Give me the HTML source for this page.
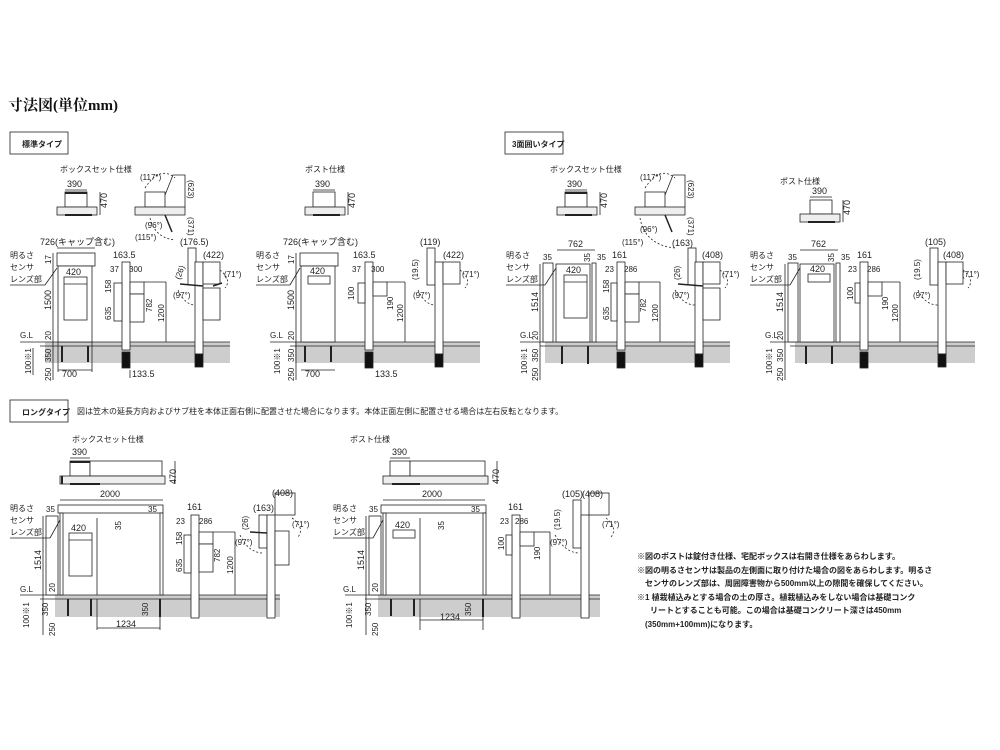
<!DOCTYPE html>
<html><head><meta charset="utf-8"><style>
html,body{margin:0;padding:0;background:#fff;}
svg{display:block;font-family:"Liberation Sans","Noto Sans CJK JP",sans-serif;}
.t{font-size:9px;fill:#222;}
.s{font-size:8px;fill:#222;}
.j{font-size:8px;fill:#222;font-weight:bold;}
</style></head><body>
<svg width="1000" height="750" viewBox="0 0 1000 750" xmlns="http://www.w3.org/2000/svg">
<g stroke="#222" fill="none" stroke-width="0.8">

<text x="8" y="110" style="font-family:'Liberation Serif','Noto Serif CJK SC',serif;font-size:15px;font-weight:bold" fill="#111" stroke="none">寸法図(単位mm)</text>
<rect x="10" y="132" width="58" height="22" fill="#fff"/>
<text x="22" y="147" class="j" stroke="none">標準タイプ</text>
<rect x="505" y="132" width="58" height="22" fill="#fff"/>
<text x="512" y="147" class="j" stroke="none">3面囲いタイプ</text>
<rect x="10" y="400" width="58" height="22" fill="#fff"/>
<text x="22" y="415" class="j" stroke="none">ロングタイプ</text>
<text x="77" y="414" class="s" stroke="none">図は笠木の延長方向およびサブ柱を本体正面右側に配置させた場合になります。本体正面左側に配置させる場合は左右反転となります。</text>

<!-- ground bands top -->
<rect x="45" y="342" width="185" height="21" fill="#cdcdcd" stroke="none"/>
<rect x="295" y="342" width="185" height="21" fill="#cdcdcd" stroke="none"/>
<rect x="545" y="342" width="185" height="21" fill="#cdcdcd" stroke="none"/>
<rect x="795" y="342" width="180" height="21" fill="#cdcdcd" stroke="none"/>
<line x1="20" y1="342" x2="230" y2="342"/><line x1="40" y1="346" x2="230" y2="346"/>
<line x1="270" y1="342" x2="480" y2="342"/><line x1="290" y1="346" x2="480" y2="346"/>
<line x1="520" y1="342" x2="730" y2="342"/><line x1="540" y1="346" x2="730" y2="346"/>
<line x1="770" y1="342" x2="975" y2="342"/><line x1="790" y1="346" x2="975" y2="346"/>

<g>
<text x="60" y="172" class="s" stroke="none">ボックスセット仕様</text>
<rect x="65" y="192" width="22" height="15" fill="#fff"/><line x1="65" y1="193" x2="87" y2="193" stroke-width="2"/>
<rect x="57" y="207" width="40" height="8" fill="#eee"/><line x1="65" y1="215" x2="92" y2="215" stroke-width="2"/>
<line x1="65" y1="190" x2="87" y2="190"/><text x="67" y="187" class="t" stroke="none">390</text>
<line x1="100" y1="192" x2="100" y2="215"/><text transform="translate(107,208) rotate(-90)" class="t" stroke="none">470</text>
<rect x="145" y="192" width="20" height="15" fill="#fff"/><rect x="135" y="207" width="50" height="8" fill="#eee"/>
<path d="M165 195 L173 175 L185 175 L185 207"/><path d="M165 215 L172 232" stroke-width="1.5"/>
<path d="M145 188 Q160 165 175 178" stroke-dasharray="2,2"/><path d="M150 218 Q155 238 175 240" stroke-dasharray="2,2"/>
<text x="140" y="180" class="s" stroke="none">(117°)</text><text x="145" y="228" class="s" stroke="none">(96°)</text><text x="135" y="240" class="s" stroke="none">(115°)</text>
<text transform="translate(188,180) rotate(90)" class="s" stroke="none">(623)</text><text transform="translate(188,217) rotate(90)" class="s" stroke="none">(371)</text>
</g>

<g>
<text x="40" y="245" class="t" stroke="none">726(キャップ含む)</text><line x1="57" y1="248" x2="95" y2="248"/>
<rect x="57" y="253" width="38" height="13" fill="#fff"/><rect x="58" y="266" width="34" height="76" fill="#fff"/>
<rect x="64" y="277" width="23" height="43"/><line x1="64" y1="284" x2="87" y2="284"/><text x="66" y="275" class="t" stroke="none">420</text>
<line x1="62" y1="346" x2="62" y2="362" stroke-width="2"/><line x1="88" y1="346" x2="88" y2="362" stroke-width="2"/>
<line x1="58" y1="342" x2="58" y2="372"/><line x1="92" y1="342" x2="92" y2="372"/><line x1="58" y1="370" x2="92" y2="370"/>
<text x="62" y="377" class="t" stroke="none">700</text>
<line x1="53" y1="253" x2="53" y2="380"/>
<text transform="translate(51,264) rotate(-90)" class="s" stroke="none">17</text>
<text transform="translate(51,310) rotate(-90)" class="t" stroke="none">1500</text>
<text transform="translate(51,340) rotate(-90)" class="s" stroke="none">20</text>
<text transform="translate(51,362) rotate(-90)" class="s" stroke="none">350</text>
<text transform="translate(51,381) rotate(-90)" class="s" stroke="none">250</text>
<text transform="translate(31,374) rotate(-90)" class="s" stroke="none">100※1</text><line x1="33" y1="348" x2="33" y2="375"/>
<text x="20" y="338" class="s" stroke="none">G.L</text>
<text x="10" y="258" class="s" stroke="none">明るさ</text><text x="10" y="270" class="s" stroke="none">センサ</text><text x="10" y="282" class="s" stroke="none">レンズ部</text>
<line x1="10" y1="285" x2="45" y2="285"/><line x1="45" y1="285" x2="57" y2="268"/>
<rect x="122" y="262" width="8" height="88" fill="#fff"/><rect x="122" y="352" width="8" height="16" fill="#111"/>
<rect x="114" y="283" width="8" height="38" fill="#fff"/><rect x="130" y="282" width="14" height="12" fill="#fff"/><rect x="130" y="294" width="14" height="28" fill="#fff"/>
<line x1="144" y1="282" x2="166" y2="282"/><line x1="166" y1="282" x2="166" y2="342"/>
<text x="113" y="258" class="t" stroke="none">163.5</text><text x="110" y="272" class="s" stroke="none">37</text><text x="129" y="272" class="s" stroke="none">300</text>
<text transform="translate(111,293) rotate(-90)" class="s" stroke="none">158</text><text transform="translate(111,320) rotate(-90)" class="s" stroke="none">635</text>
<text transform="translate(152,312) rotate(-90)" class="s" stroke="none">782</text><text transform="translate(164,322) rotate(-90)" class="s" stroke="none">1200</text>
<text x="132" y="377" class="t" stroke="none">133.5</text><line x1="130" y1="370" x2="130" y2="378"/>
<rect x="188" y="248" width="8" height="37" fill="#fff"/>
<rect x="195" y="262" width="8" height="92" fill="#fff"/><rect x="195" y="354" width="8" height="13" fill="#111"/>
<rect x="203" y="262" width="17" height="22" fill="#fff"/><rect x="203" y="288" width="17" height="32" fill="#fff"/>
<line x1="180" y1="284" x2="203" y2="286" stroke-width="1.5"/><line x1="213" y1="286" x2="222" y2="283" stroke-width="1.5"/>
<path d="M178 290 Q185 305 195 305" stroke-dasharray="2,2"/><path d="M220 270 Q232 280 225 288" stroke-dasharray="2,2"/>
<text x="180" y="245" class="t" stroke="none">(176.5)</text><text x="203" y="258" class="t" stroke="none">(422)</text>
<text transform="translate(180,280) rotate(-70)" class="s" stroke="none">(26)</text><text x="224" y="277" class="s" stroke="none">(71°)</text><text x="173" y="298" class="s" stroke="none">(97°)</text>
</g>

<g>
<text x="305" y="172" class="s" stroke="none">ポスト仕様</text>
<rect x="313" y="192" width="22" height="15" fill="#fff"/><rect x="305" y="207" width="40" height="8" fill="#eee"/><line x1="313" y1="215" x2="340" y2="215" stroke-width="2"/>
<line x1="313" y1="190" x2="335" y2="190"/><text x="315" y="187" class="t" stroke="none">390</text>
<line x1="348" y1="192" x2="348" y2="215"/><text transform="translate(355,208) rotate(-90)" class="t" stroke="none">470</text>
<text x="283" y="245" class="t" stroke="none">726(キャップ含む)</text>
<rect x="300" y="253" width="38" height="13" fill="#fff"/><rect x="301" y="266" width="34" height="76" fill="#fff"/>
<rect x="308" y="276" width="22" height="8"/><text x="310" y="274" class="t" stroke="none">420</text>
<line x1="305" y1="346" x2="305" y2="362" stroke-width="2"/><line x1="331" y1="346" x2="331" y2="362" stroke-width="2"/>
<line x1="301" y1="370" x2="335" y2="370"/><text x="305" y="377" class="t" stroke="none">700</text>
<line x1="296" y1="253" x2="296" y2="380"/>
<text transform="translate(294,264) rotate(-90)" class="s" stroke="none">17</text><text transform="translate(294,310) rotate(-90)" class="t" stroke="none">1500</text>
<text transform="translate(294,340) rotate(-90)" class="s" stroke="none">20</text><text transform="translate(294,362) rotate(-90)" class="s" stroke="none">350</text>
<text transform="translate(294,381) rotate(-90)" class="s" stroke="none">250</text><text transform="translate(280,374) rotate(-90)" class="s" stroke="none">100※1</text>
<text x="270" y="338" class="s" stroke="none">G.L</text>
<text x="256" y="258" class="s" stroke="none">明るさ</text><text x="256" y="270" class="s" stroke="none">センサ</text><text x="256" y="282" class="s" stroke="none">レンズ部</text>
<line x1="256" y1="285" x2="290" y2="285"/><line x1="290" y1="285" x2="300" y2="268"/>
<rect x="365" y="262" width="8" height="88" fill="#fff"/><rect x="365" y="352" width="8" height="16" fill="#111"/>
<rect x="358" y="283" width="7" height="20" fill="#fff"/><rect x="373" y="282" width="14" height="14" fill="#fff"/>
<line x1="387" y1="282" x2="405" y2="282"/><line x1="405" y1="282" x2="405" y2="342"/>
<text x="353" y="258" class="t" stroke="none">163.5</text><text x="352" y="272" class="s" stroke="none">37</text><text x="371" y="272" class="s" stroke="none">300</text>
<text transform="translate(354,300) rotate(-90)" class="s" stroke="none">100</text><text transform="translate(393,310) rotate(-90)" class="s" stroke="none">190</text><text transform="translate(403,322) rotate(-90)" class="s" stroke="none">1200</text>
<text x="375" y="377" class="t" stroke="none">133.5</text>
<rect x="427" y="248" width="8" height="37" fill="#fff"/><rect x="435" y="262" width="8" height="92" fill="#fff"/><rect x="435" y="354" width="8" height="13" fill="#111"/>
<rect x="443" y="262" width="17" height="22" fill="#fff"/>
<text x="420" y="245" class="t" stroke="none">(119)</text><text x="443" y="258" class="t" stroke="none">(422)</text>
<text transform="translate(418,280) rotate(-90)" class="s" stroke="none">(19.5)</text><text x="462" y="277" class="s" stroke="none">(71°)</text><text x="413" y="298" class="s" stroke="none">(97°)</text>
<path d="M418 290 Q425 305 435 305" stroke-dasharray="2,2"/><path d="M460 270 Q472 280 465 288" stroke-dasharray="2,2"/>
</g>

<g>
<text x="550" y="172" class="s" stroke="none">ボックスセット仕様</text>
<rect x="565" y="192" width="22" height="15" fill="#fff"/><line x1="565" y1="193" x2="587" y2="193" stroke-width="2"/>
<rect x="557" y="207" width="40" height="8" fill="#eee"/><line x1="565" y1="215" x2="592" y2="215" stroke-width="2"/>
<line x1="565" y1="190" x2="587" y2="190"/><text x="567" y="187" class="t" stroke="none">390</text>
<line x1="600" y1="192" x2="600" y2="215"/><text transform="translate(607,208) rotate(-90)" class="t" stroke="none">470</text>
<rect x="645" y="192" width="20" height="15" fill="#fff"/><rect x="635" y="207" width="50" height="8" fill="#eee"/>
<path d="M665 195 L673 175 L685 175 L685 207"/><path d="M665 215 L672 232" stroke-width="1.5"/>
<path d="M645 188 Q660 165 675 178" stroke-dasharray="2,2"/><path d="M640 218 Q645 245 675 248" stroke-dasharray="2,2"/>
<text x="640" y="180" class="s" stroke="none">(117°)</text><text x="640" y="232" class="s" stroke="none">(96°)</text><text x="622" y="245" class="s" stroke="none">(115°)</text>
<text transform="translate(688,180) rotate(90)" class="s" stroke="none">(623)</text><text transform="translate(688,217) rotate(90)" class="s" stroke="none">(371)</text>
<text x="672" y="246" class="t" stroke="none">(163)</text>
<line x1="557" y1="250" x2="595" y2="250"/><text x="568" y="247" class="t" stroke="none">762</text>
<rect x="543" y="263" width="10" height="79" fill="#fff"/><rect x="592" y="263" width="4" height="79" fill="#fff"/>
<rect x="556" y="264" width="34" height="78" fill="#fff"/>
<rect x="564" y="275" width="23" height="43"/><line x1="564" y1="282" x2="587" y2="282"/><text x="566" y="273" class="t" stroke="none">420</text>
<text x="543" y="260" class="s" stroke="none">35</text><text x="597" y="260" class="s" stroke="none">35</text><text transform="translate(590,262) rotate(-90)" class="s" stroke="none">35</text>
<line x1="562" y1="346" x2="562" y2="364" stroke-width="2"/><line x1="588" y1="346" x2="588" y2="364" stroke-width="2"/>
<line x1="540" y1="264" x2="540" y2="380"/>
<text transform="translate(538,312) rotate(-90)" class="t" stroke="none">1514</text><text transform="translate(538,340) rotate(-90)" class="s" stroke="none">20</text>
<text transform="translate(538,362) rotate(-90)" class="s" stroke="none">350</text><text transform="translate(538,381) rotate(-90)" class="s" stroke="none">250</text>
<text transform="translate(527,374) rotate(-90)" class="s" stroke="none">100※1</text>
<text x="520" y="338" class="s" stroke="none">G.L</text>
<text x="506" y="258" class="s" stroke="none">明るさ</text><text x="506" y="270" class="s" stroke="none">センサ</text><text x="506" y="282" class="s" stroke="none">レンズ部</text>
<line x1="506" y1="285" x2="545" y2="285"/><line x1="545" y1="285" x2="556" y2="268"/>
<rect x="617" y="262" width="8" height="88" fill="#fff"/><rect x="617" y="352" width="8" height="16" fill="#111"/>
<rect x="611" y="283" width="6" height="38" fill="#fff"/><rect x="625" y="282" width="14" height="12" fill="#fff"/><rect x="625" y="294" width="14" height="28" fill="#fff"/>
<line x1="639" y1="282" x2="660" y2="282"/><line x1="660" y1="282" x2="660" y2="342"/>
<text x="612" y="258" class="t" stroke="none">161</text><text x="605" y="272" class="s" stroke="none">23</text><text x="624" y="272" class="s" stroke="none">286</text>
<text transform="translate(609,293) rotate(-90)" class="s" stroke="none">158</text><text transform="translate(609,320) rotate(-90)" class="s" stroke="none">635</text>
<text transform="translate(646,312) rotate(-90)" class="s" stroke="none">782</text><text transform="translate(658,322) rotate(-90)" class="s" stroke="none">1200</text>
<rect x="688" y="248" width="8" height="37" fill="#fff"/><rect x="695" y="262" width="8" height="92" fill="#fff"/><rect x="695" y="354" width="8" height="13" fill="#111"/>
<rect x="703" y="262" width="17" height="22" fill="#fff"/><rect x="703" y="288" width="17" height="32" fill="#fff"/>
<line x1="678" y1="284" x2="703" y2="286" stroke-width="1.5"/>
<text x="702" y="258" class="t" stroke="none">(408)</text>
<text transform="translate(680,280) rotate(-90)" class="s" stroke="none">(26)</text><text x="722" y="277" class="s" stroke="none">(71°)</text><text x="672" y="298" class="s" stroke="none">(97°)</text>
<path d="M675 290 Q683 305 695 305" stroke-dasharray="2,2"/><path d="M720 270 Q732 280 725 288" stroke-dasharray="2,2"/>
</g>

<g>
<text x="780" y="184" class="s" stroke="none">ポスト仕様</text>
<rect x="810" y="200" width="22" height="14" fill="#fff"/><rect x="800" y="214" width="40" height="8" fill="#eee"/><line x1="808" y1="222" x2="835" y2="222" stroke-width="2"/>
<line x1="810" y1="197" x2="832" y2="197"/><text x="812" y="194" class="t" stroke="none">390</text>
<line x1="843" y1="200" x2="843" y2="222"/><text transform="translate(850,215) rotate(-90)" class="t" stroke="none">470</text>
<line x1="800" y1="250" x2="838" y2="250"/><text x="811" y="247" class="t" stroke="none">762</text>
<rect x="788" y="263" width="10" height="79" fill="#fff"/><rect x="836" y="263" width="4" height="79" fill="#fff"/>
<rect x="800" y="264" width="34" height="78" fill="#fff"/>
<rect x="808" y="274" width="22" height="8"/><text x="810" y="272" class="t" stroke="none">420</text>
<text x="788" y="260" class="s" stroke="none">35</text><text x="841" y="260" class="s" stroke="none">35</text><text transform="translate(834,262) rotate(-90)" class="s" stroke="none">35</text>
<line x1="806" y1="346" x2="806" y2="364" stroke-width="2"/><line x1="832" y1="346" x2="832" y2="364" stroke-width="2"/>
<line x1="785" y1="264" x2="785" y2="380"/>
<text transform="translate(783,312) rotate(-90)" class="t" stroke="none">1514</text><text transform="translate(783,340) rotate(-90)" class="s" stroke="none">20</text>
<text transform="translate(783,362) rotate(-90)" class="s" stroke="none">350</text><text transform="translate(783,381) rotate(-90)" class="s" stroke="none">250</text>
<text transform="translate(772,374) rotate(-90)" class="s" stroke="none">100※1</text>
<text x="765" y="338" class="s" stroke="none">G.L</text>
<text x="750" y="258" class="s" stroke="none">明るさ</text><text x="750" y="270" class="s" stroke="none">センサ</text><text x="750" y="282" class="s" stroke="none">レンズ部</text>
<line x1="750" y1="285" x2="790" y2="285"/><line x1="790" y1="285" x2="800" y2="268"/>
<rect x="860" y="262" width="8" height="88" fill="#fff"/><rect x="860" y="352" width="8" height="16" fill="#111"/>
<rect x="855" y="283" width="5" height="20" fill="#fff"/><rect x="868" y="282" width="14" height="14" fill="#fff"/>
<line x1="882" y1="282" x2="900" y2="282"/><line x1="900" y1="282" x2="900" y2="342"/>
<text x="857" y="258" class="t" stroke="none">161</text><text x="848" y="272" class="s" stroke="none">23</text><text x="867" y="272" class="s" stroke="none">286</text>
<text transform="translate(853,300) rotate(-90)" class="s" stroke="none">100</text><text transform="translate(888,310) rotate(-90)" class="s" stroke="none">190</text><text transform="translate(898,322) rotate(-90)" class="s" stroke="none">1200</text>
<rect x="930" y="248" width="8" height="37" fill="#fff"/><rect x="938" y="262" width="8" height="92" fill="#fff"/><rect x="938" y="354" width="8" height="13" fill="#111"/>
<rect x="946" y="262" width="17" height="22" fill="#fff"/>
<text x="925" y="245" class="t" stroke="none">(105)</text><text x="943" y="258" class="t" stroke="none">(408)</text>
<text transform="translate(920,280) rotate(-90)" class="s" stroke="none">(19.5)</text><text x="962" y="277" class="s" stroke="none">(71°)</text><text x="913" y="298" class="s" stroke="none">(97°)</text>
<path d="M918 290 Q925 305 938 305" stroke-dasharray="2,2"/><path d="M963 270 Q975 280 968 288" stroke-dasharray="2,2"/>
</g>

<!-- LONG TYPE -->
<rect x="55" y="595" width="225" height="22" fill="#cdcdcd" stroke="none"/>
<rect x="378" y="595" width="222" height="22" fill="#cdcdcd" stroke="none"/>
<line x1="20" y1="595" x2="280" y2="595"/><line x1="40" y1="599" x2="280" y2="599"/>
<line x1="345" y1="595" x2="600" y2="595"/><line x1="365" y1="599" x2="600" y2="599"/>

<g>
<text x="72" y="442" class="s" stroke="none">ボックスセット仕様</text>
<line x1="70" y1="458" x2="90" y2="458"/><text x="72" y="455" class="t" stroke="none">390</text>
<rect x="70" y="461" width="20" height="15" fill="#fff"/><line x1="70" y1="462" x2="90" y2="462" stroke-width="2"/>
<rect x="90" y="461" width="72" height="15" fill="#fff"/>
<rect x="60" y="476" width="105" height="8" fill="#eee"/><line x1="62" y1="476" x2="62" y2="484" stroke-width="2"/><line x1="70" y1="484" x2="100" y2="484" stroke-width="2"/>
<line x1="175" y1="461" x2="175" y2="484"/><text transform="translate(176,484) rotate(-90)" class="t" stroke="none">470</text>
<line x1="60" y1="500" x2="163" y2="500"/><text x="100" y="497" class="t" stroke="none">2000</text>
<rect x="46" y="516" width="12" height="79" fill="#fff"/>
<rect x="58" y="505" width="105" height="8" fill="#fff"/><rect x="60" y="513" width="3" height="82" fill="#fff"/><rect x="160" y="513" width="3" height="82" fill="#fff"/>
<line x1="97" y1="518" x2="97" y2="595"/>
<rect x="69" y="533" width="23" height="43"/><line x1="69" y1="540" x2="92" y2="540"/><text x="71" y="531" class="t" stroke="none">420</text>
<text x="46" y="512" class="s" stroke="none">35</text><text x="148" y="512" class="s" stroke="none">35</text><text transform="translate(121,530) rotate(-90)" class="s" stroke="none">35</text>
<line x1="68" y1="599" x2="68" y2="616" stroke-width="2"/><line x1="91" y1="599" x2="91" y2="616" stroke-width="2"/><line x1="160" y1="599" x2="160" y2="617" stroke-width="2"/>
<line x1="97" y1="599" x2="97" y2="630"/><line x1="160" y1="599" x2="160" y2="630"/><line x1="97" y1="628" x2="160" y2="628"/>
<text x="116" y="627" class="t" stroke="none">1234</text><text transform="translate(148,616) rotate(-90)" class="s" stroke="none">350</text>
<line x1="43" y1="516" x2="43" y2="635"/>
<text transform="translate(41,570) rotate(-90)" class="t" stroke="none">1514</text><text transform="translate(55,592) rotate(-90)" class="s" stroke="none">20</text>
<text transform="translate(48,616) rotate(-90)" class="s" stroke="none">350</text><text transform="translate(55,636) rotate(-90)" class="s" stroke="none">250</text>
<text transform="translate(29,628) rotate(-90)" class="s" stroke="none">100※1</text>
<text x="20" y="592" class="s" stroke="none">G.L</text>
<text x="10" y="511" class="s" stroke="none">明るさ</text><text x="10" y="523" class="s" stroke="none">センサ</text><text x="10" y="535" class="s" stroke="none">レンズ部</text>
<line x1="10" y1="538" x2="50" y2="538"/><line x1="50" y1="538" x2="60" y2="520"/>
<rect x="191" y="515" width="8" height="103" fill="#fff"/>
<rect x="184" y="535" width="7" height="38" fill="#fff"/><rect x="199" y="532" width="14" height="12" fill="#fff"/><rect x="199" y="544" width="14" height="28" fill="#fff"/>
<line x1="213" y1="532" x2="235" y2="532"/><line x1="235" y1="532" x2="235" y2="595"/>
<text x="187" y="510" class="t" stroke="none">161</text><text x="176" y="524" class="s" stroke="none">23</text><text x="199" y="524" class="s" stroke="none">286</text>
<text transform="translate(182,545) rotate(-90)" class="s" stroke="none">158</text><text transform="translate(182,572) rotate(-90)" class="s" stroke="none">635</text>
<text transform="translate(220,562) rotate(-90)" class="s" stroke="none">782</text><text transform="translate(233,574) rotate(-90)" class="s" stroke="none">1200</text>
<rect x="259" y="515" width="8" height="33" fill="#fff"/><rect x="267" y="515" width="8" height="103" fill="#fff"/>
<rect x="275" y="493" width="20" height="22" fill="#fff"/><rect x="275" y="531" width="14" height="34" fill="#fff"/>
<line x1="250" y1="532" x2="267" y2="533" stroke-width="1.5"/>
<text x="253" y="511" class="t" stroke="none">(163)</text><text x="272" y="496" class="t" stroke="none">(408)</text>
<text transform="translate(248,530) rotate(-90)" class="s" stroke="none">(26)</text><text x="292" y="527" class="s" stroke="none">(71°)</text><text x="235" y="545" class="s" stroke="none">(97°)</text>
<path d="M240 535 Q248 552 262 553" stroke-dasharray="2,2"/><path d="M292 518 Q305 528 298 537" stroke-dasharray="2,2"/>
</g>

<g>
<text x="350" y="442" class="s" stroke="none">ポスト仕様</text>
<line x1="390" y1="458" x2="410" y2="458"/><text x="392" y="455" class="t" stroke="none">390</text>
<rect x="390" y="461" width="20" height="15" fill="#fff"/><rect x="410" y="461" width="75" height="15" fill="#fff"/>
<rect x="383" y="476" width="105" height="8" fill="#eee"/><line x1="392" y1="484" x2="420" y2="484" stroke-width="2"/>
<line x1="497" y1="461" x2="497" y2="484"/><text transform="translate(499,484) rotate(-90)" class="t" stroke="none">470</text>
<line x1="383" y1="500" x2="485" y2="500"/><text x="422" y="497" class="t" stroke="none">2000</text>
<rect x="369" y="516" width="12" height="79" fill="#fff"/>
<rect x="381" y="505" width="105" height="8" fill="#fff"/><rect x="383" y="513" width="3" height="82" fill="#fff"/><rect x="483" y="513" width="3" height="82" fill="#fff"/>
<line x1="420" y1="518" x2="420" y2="595"/>
<rect x="393" y="530" width="22" height="8"/><text x="395" y="528" class="t" stroke="none">420</text>
<text x="369" y="512" class="s" stroke="none">35</text><text x="471" y="512" class="s" stroke="none">35</text><text transform="translate(444,530) rotate(-90)" class="s" stroke="none">35</text>
<line x1="391" y1="599" x2="391" y2="616" stroke-width="2"/><line x1="414" y1="599" x2="414" y2="616" stroke-width="2"/><line x1="483" y1="599" x2="483" y2="617" stroke-width="2"/>
<line x1="420" y1="599" x2="420" y2="630"/><line x1="483" y1="599" x2="483" y2="630"/><line x1="420" y1="620" x2="483" y2="620"/>
<text x="440" y="620" class="t" stroke="none">1234</text><text transform="translate(471,616) rotate(-90)" class="s" stroke="none">350</text>
<line x1="366" y1="516" x2="366" y2="635"/>
<text transform="translate(364,570) rotate(-90)" class="t" stroke="none">1514</text><text transform="translate(378,592) rotate(-90)" class="s" stroke="none">20</text>
<text transform="translate(371,616) rotate(-90)" class="s" stroke="none">350</text><text transform="translate(378,636) rotate(-90)" class="s" stroke="none">250</text>
<text transform="translate(352,628) rotate(-90)" class="s" stroke="none">100※1</text>
<text x="343" y="592" class="s" stroke="none">G.L</text>
<text x="333" y="511" class="s" stroke="none">明るさ</text><text x="333" y="523" class="s" stroke="none">センサ</text><text x="333" y="535" class="s" stroke="none">レンズ部</text>
<line x1="333" y1="538" x2="373" y2="538"/><line x1="373" y1="538" x2="383" y2="520"/>
<rect x="512" y="515" width="8" height="103" fill="#fff"/>
<rect x="506" y="535" width="6" height="20" fill="#fff"/><rect x="520" y="532" width="14" height="14" fill="#fff"/>
<line x1="534" y1="532" x2="550" y2="532"/><line x1="550" y1="532" x2="550" y2="595"/>
<text x="508" y="510" class="t" stroke="none">161</text><text x="500" y="524" class="s" stroke="none">23</text><text x="515" y="524" class="s" stroke="none">286</text>
<text transform="translate(504,550) rotate(-90)" class="s" stroke="none">100</text><text transform="translate(540,560) rotate(-90)" class="s" stroke="none">190</text>
<rect x="573" y="500" width="8" height="48" fill="#fff"/><rect x="581" y="515" width="8" height="103" fill="#fff"/>
<rect x="589" y="493" width="20" height="22" fill="#fff"/>
<text x="562" y="497" class="t" stroke="none">(105)</text><text x="582" y="497" class="t" stroke="none">(408)</text>
<text transform="translate(560,530) rotate(-90)" class="s" stroke="none">(19.5)</text><text x="602" y="527" class="s" stroke="none">(71°)</text><text x="550" y="545" class="s" stroke="none">(97°)</text>
<path d="M555 535 Q565 552 578 553" stroke-dasharray="2,2"/><path d="M606 518 Q618 528 611 537" stroke-dasharray="2,2"/>
</g>

<g stroke="none" class="j" style="font-size:8px">
<text x="637" y="559" class="s">※図のポストは錠付き仕様、宅配ボックスは右開き仕様をあらわします。</text>
<text x="637" y="573" class="s">※図の明るさセンサは製品の左側面に取り付けた場合の図をあらわします。明るさ</text>
<text x="645" y="586" class="s">センサのレンズ部は、周囲障害物から500mm以上の隙間を確保してください。</text>
<text x="637" y="600" class="s">※1 植栽植込みとする場合の土の厚さ。植栽植込みをしない場合は基礎コンク</text>
<text x="650" y="613" class="s">リートとすることも可能。この場合は基礎コンクリート深さは450mm</text>
<text x="645" y="627" class="s">(350mm+100mm)になります。</text>
</g>
</g>
</svg>
</body></html>
